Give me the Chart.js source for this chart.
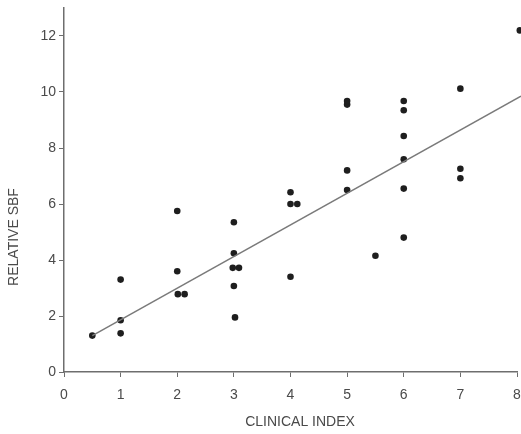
<!DOCTYPE html>
<html>
<head>
<meta charset="utf-8">
<script src="https://cdn.jsdelivr.net/npm/chart.js@4.4.1/dist/chart.umd.min.js"></script>
<style>
  html, body { margin: 0; padding: 0; background: #fff; }
  #wrap { width: 521px; height: 434px; position: relative; }
</style>
</head>
<body>
<div id="wrap"><canvas id="sbf"></canvas></div>
<script>
// clinical index vs relative SBF
const clinicalIndex = [0.5, 1, 1, 1, 2, 2, 2.01, 2.13, 3, 3, 2.98, 3.09, 3, 3.02,
  4, 4, 4.12, 4, 5, 5, 5, 5, 5.5, 6, 6, 6, 6, 6, 6, 7, 7, 7, 8.05];
const relativeSbf = [1.3, 1.85, 1.38, 3.3, 5.75, 3.6, 2.78, 2.78, 5.35, 4.24, 3.72, 3.72, 3.07, 1.95,
  6.42, 6.0, 6.0, 3.4, 9.55, 9.68, 7.2, 6.5, 4.15, 9.68, 9.35, 8.43, 7.6, 6.55, 4.8, 10.12, 7.26, 6.92, 12.2];

// regression line end points
const fitX = [0.5, 8.07];
const fitY = [1.3, 9.85];

const xTicks = [0, 1, 2, 3, 4, 5, 6, 7, 8];
const yTicks = [0, 2, 4, 6, 8, 10, 12];

const xTitle = 'CLINICAL INDEX';
const yTitle = 'RELATIVE SBF';

const ink = '#4a4a4a';
const axisColor = '#6e6e6e';
const fontFamily = '"Liberation Sans", Arial, Helvetica, sans-serif';

const axisTitles = {
  id: 'axisTitles',
  afterDraw: (chart) => {
    const { ctx } = chart;
    ctx.save();
    ctx.fillStyle = ink;
    ctx.font = `14px ${fontFamily}`;
    ctx.textAlign = 'center';
    ctx.textBaseline = 'middle';
    ctx.fillText(xTitle, 300, 422);
    ctx.translate(14, 237);
    ctx.rotate(-Math.PI / 2);
    ctx.fillText(yTitle, 0, 0);
    ctx.restore();
  },
};

const init = () => {
  const points = clinicalIndex.map((x, i) => ({ x, y: relativeSbf[i] }));
  const fit = fitX.map((x, i) => ({ x, y: fitY[i] }));

  new Chart(document.getElementById('sbf'), {
    type: 'scatter',
    data: {
      datasets: [
        {
          data: fit,
          showLine: true,
          borderColor: '#7a7a7a',
          borderWidth: 1.5,
          pointRadius: 0,
          fill: false,
          clip: false,
        },
        {
          data: points,
          pointRadius: 3.3,
          pointBackgroundColor: '#1e1e1e',
          pointBorderWidth: 0,
          clip: false,
        },
      ],
    },
    options: {
      responsive: true,
      maintainAspectRatio: false,
      animation: false,
      layout: { padding: { top: 8, right: 0, left: 0, bottom: 0 } },
      plugins: {
        legend: { display: false },
        tooltip: { enabled: false },
      },
      scales: {
        x: {
          type: 'linear',
          min: 0,
          max: 8,
          afterBuildTicks: (scale) => { scale.ticks = xTicks.map((value) => ({ value })); },
          afterFit: (scale) => {
            scale.height = 62;
            scale.paddingLeft = 0;
            scale.paddingRight = 0;
          },
          border: { display: true, color: axisColor, width: 1.5 },
          grid: { drawOnChartArea: false, drawTicks: true, tickLength: 5, color: axisColor },
          ticks: {
            color: ink,
            padding: 10,
            maxRotation: 0,
            font: { family: fontFamily, size: 14 },
          },
        },
        y: {
          type: 'linear',
          min: 0,
          max: 13,
          afterBuildTicks: (scale) => { scale.ticks = yTicks.map((value) => ({ value })); },
          afterFit: (scale) => {
            scale.width = 64;
            scale.paddingTop = 0;
            scale.paddingBottom = 0;
          },
          border: { display: true, color: axisColor, width: 1.5 },
          grid: { drawOnChartArea: false, drawTicks: true, tickLength: 5, color: axisColor },
          ticks: {
            color: ink,
            padding: 3,
            font: { family: fontFamily, size: 14 },
          },
        },
      },
    },
    plugins: [axisTitles],
  });
};

init();
</script>
</body>
</html>
